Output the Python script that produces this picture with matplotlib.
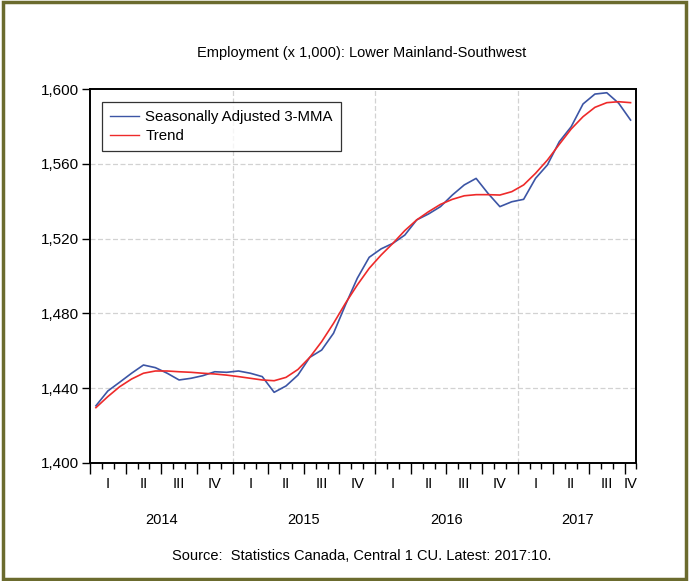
import matplotlib
matplotlib.use("Agg")
import matplotlib.pyplot as plt
from matplotlib.patches import Rectangle
from matplotlib.ticker import FuncFormatter, MultipleLocator

plt.rcParams['font.family'] = ['Liberation Sans', 'DejaVu Sans']

# monthly values, 2014:01 .. 2017:10 (thousands)
sa_3mma = [1430.6, 1438.5, 1443.2, 1448.0, 1452.4, 1451.0, 1448.0, 1444.4, 1445.3, 1446.7, 1448.8, 1448.5,
           1449.2, 1448.0, 1446.2, 1437.8, 1441.2, 1447.0, 1456.5, 1460.4, 1469.4, 1484.5, 1498.8, 1510.0,
           1514.5, 1517.5, 1521.9, 1530.0, 1533.2, 1537.1, 1543.3, 1548.7, 1552.2, 1544.2, 1537.1, 1539.7,
           1541.0, 1552.2, 1559.4, 1571.8, 1579.8, 1592.0, 1597.3, 1598.0, 1592.4, 1583.4]
trend = [1429.6, 1435.5, 1440.8, 1444.9, 1448.0, 1449.2, 1449.2, 1448.8, 1448.5, 1448.0, 1447.6, 1447.0,
         1446.2, 1445.3, 1444.4, 1444.0, 1445.8, 1450.0, 1456.5, 1464.9, 1474.7, 1485.4, 1495.2, 1504.1,
         1511.2, 1517.5, 1524.3, 1530.0, 1534.4, 1538.3, 1541.0, 1542.9, 1543.5, 1543.5, 1543.3, 1545.1,
         1548.7, 1554.9, 1562.0, 1570.4, 1578.6, 1585.2, 1590.2, 1592.7, 1593.2, 1592.7]
years = ['2014', '2015', '2016', '2017']
quarters = ['I', 'II', 'III', 'IV']

n = len(sa_3mma)
x = [i + 0.5 for i in range(n)]

fig = plt.figure(figsize=(6.89, 5.81), dpi=100)
ax = fig.add_axes([0.1306, 0.2031, 0.7932, 0.6437])

ax.plot(x, sa_3mma, color='#3c55a5', lw=1.2, label='Seasonally Adjusted 3-MMA')
ax.plot(x, trend, color='#ee2a2a', lw=1.2, label='Trend')

ax.set_xlim(0, n)
ax.set_ylim(1400, 1600)
ax.yaxis.set_major_locator(MultipleLocator(40))
ax.yaxis.set_major_formatter(FuncFormatter(lambda v, p: f'{v:,.0f}'))
ax.xaxis.set_major_locator(MultipleLocator(3))
ax.xaxis.set_minor_locator(MultipleLocator(1))
ax.set_xticklabels([])
ax.tick_params(axis='x', which='major', length=8, width=1, direction='out')
ax.tick_params(axis='x', which='minor', length=4, width=1, direction='out')
ax.tick_params(axis='y', length=6, width=1, direction='out', labelsize=11, pad=2)

for s in ax.spines.values():
    s.set_linewidth(1.4)

# grid
for v in range(1440, 1600, 40):
    ax.axhline(v, color='#d2d2d2', lw=0.9, ls=(0, (4, 2)), zorder=0)
for v in range(12, n, 12):
    ax.axvline(v, color='#d2d2d2', lw=0.9, ls=(0, (4, 2)), zorder=0)

# quarter and year labels
tr = ax.get_xaxis_transform()
for q in range(0, n, 3):
    end = min(q + 3, n)
    ax.text((q + end) / 2, -0.055, quarters[(q // 3) % 4], transform=tr,
            ha='center', va='center', fontsize=10.5)
for k, yr in enumerate(years):
    start = k * 12
    end = min(start + 12, n)
    ax.text((start + end) / 2, -0.153, yr, transform=tr,
            ha='center', va='center', fontsize=10.5)

leg = ax.legend(loc='upper left', bbox_to_anchor=(0.008, 0.985), fontsize=10.8,
                frameon=True, fancybox=False, handlelength=1.9, borderpad=0.55,
                labelspacing=0.3, handletextpad=0.45)
leg.get_frame().set_edgecolor('black')
leg.get_frame().set_linewidth(0.9)
for line in leg.get_lines():
    line.set_linewidth(1.0)

fig.text(0.525, 0.908, 'Employment (x 1,000): Lower Mainland-Southwest',
         ha='center', va='center', fontsize=10.5)
fig.text(0.525, 0.043, 'Source:  Statistics Canada, Central 1 CU. Latest: 2017:10.',
         ha='center', va='center', fontsize=10.5)

# olive frame around the figure
fig.patches.append(Rectangle((0.004, 0.004), 0.992, 0.992, transform=fig.transFigure,
                             fill=False, edgecolor='#6b6b2e', lw=2.5))

fig.savefig('out.png', dpi=100)
